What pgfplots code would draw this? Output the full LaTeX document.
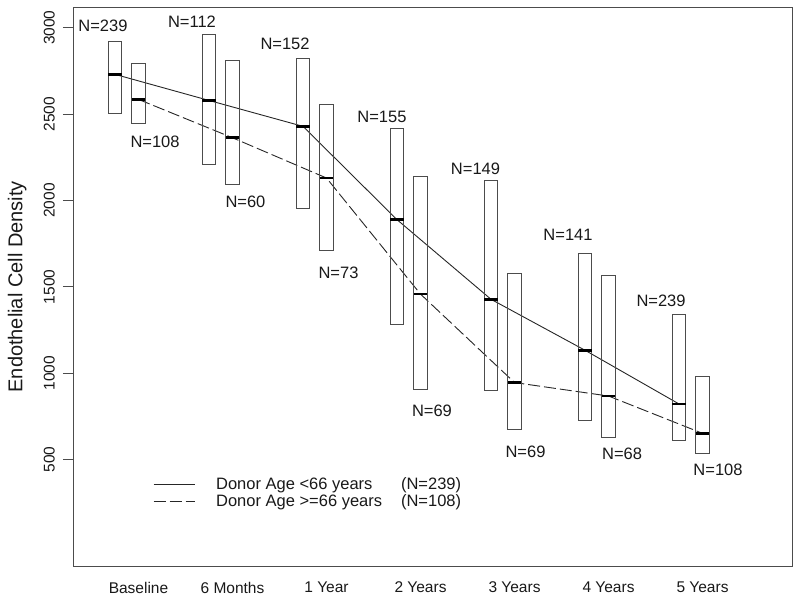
\documentclass[border=0pt]{standalone}
\usepackage{fontspec}
\setmainfont{Liberation Sans}
\usepackage{pgfplots}
\pgfplotsset{compat=1.18}
\newcommand{\annfont}{\fontsize{16.5bp}{19bp}\selectfont}
\begin{document}
\begin{tikzpicture}
\begin{axis}[
  scale only axis, width=719bp, height=559.7bp,
  xmin=0.3032, xmax=7.952, ymin=-120, ymax=3120,
  axis line style={draw=black!70, line width=0.9bp},
  xtick={1,2,3,4,5,6,7},
  xticklabels={Baseline,6 Months,1 Year,2 Years,3 Years,4 Years,5 Years},
  xtick style={draw=none},
  ytick={500,1000,1500,2000,2500,3000},
  ytick pos=left, tick align=outside, major tick length=10bp,
  ytick style={draw=black!70, line width=0.9bp},
  ticklabel style={font=\fontsize{15.5bp}{18bp}\selectfont, text=black!90},
  /pgf/number format/assume math mode=true,
  /pgf/number format/1000 sep={},
  yticklabel style={rotate=90, anchor=south, inner sep=0pt, yshift=8bp},
  xticklabel style={anchor=north, inner sep=0pt, yshift=-5bp},
  ylabel={Endothelial Cell Density},
  every axis y label/.style={at={(axis description cs:-0.0643,0.5)}, rotate=90,
     anchor=south, inner sep=0pt, text=black!90,
     font=\fontsize{20bp}{24bp}\selectfont},
  legend style={at={(axis description cs:0.1113,0.160)}, anchor=north west,
     draw=none, fill=none, inner sep=0pt, font=\annfont, text=black!90,
     nodes={inner sep=0pt}, column sep=0pt, row sep=3.5bp,
     cells={anchor=west}},
  legend image code/.code={\draw[#1] (0bp,0bp) -- (41bp,0bp); \path (62bp,0bp);},
  unbounded coords=jump,
]
\addplot[black!85, line width=0.9bp, mark=none] coordinates {
  (0.75,2730) (1.75,2579) (2.75,2429) (3.75,1889) (4.75,1428) (5.75,1133) (6.75,822)};
\addlegendentry{\makebox[185bp][l]{Donor Age <66 years}(N=239)}
\addplot[black!85, line width=0.9bp, mark=none, dash pattern=on 12bp off 4bp] coordinates {
  (1,2585) (2,2363) (3,2130) (4,1458) (5,946) (6,868) (7,652)};
\addlegendentry{\makebox[185bp][l]{Donor Age >=66 years}(N=108)}

% boxes (donor age < 66), lower and upper edges
\addplot[forget plot, draw=black!70, line width=0.9bp, line join=miter, mark=none] coordinates {
 (0.68,2502) (0.82,2502) (0.82,2922) (0.68,2922) (0.68,2502) (0.82,2502) (0.82,nan)
 (1.68,2211) (1.82,2211) (1.82,2961) (1.68,2961) (1.68,2211) (1.82,2211) (1.82,nan)
 (2.68,1953) (2.82,1953) (2.82,2820) (2.68,2820) (2.68,1953) (2.82,1953) (2.82,nan)
 (3.68,1281) (3.82,1281) (3.82,2415) (3.68,2415) (3.68,1281) (3.82,1281) (3.82,nan)
 (4.68,901) (4.82,901) (4.82,2116) (4.68,2116) (4.68,901) (4.82,901) (4.82,nan)
 (5.68,726) (5.82,726) (5.82,1694) (5.68,1694) (5.68,726) (5.82,726) (5.82,nan)
 (6.68,613) (6.82,613) (6.82,1341) (6.68,1341) (6.68,613) (6.82,613)};
% boxes (donor age >= 66)
\addplot[forget plot, draw=black!70, line width=0.9bp, line join=miter, mark=none] coordinates {
 (0.93,2444) (1.07,2444) (1.07,2792) (0.93,2792) (0.93,2444) (1.07,2444) (1.07,nan)
 (1.93,2091) (2.07,2091) (2.07,2813) (1.93,2813) (1.93,2091) (2.07,2091) (2.07,nan)
 (2.93,1711) (3.07,1711) (3.07,2558) (2.93,2558) (2.93,1711) (3.07,1711) (3.07,nan)
 (3.93,907) (4.07,907) (4.07,2141) (3.93,2141) (3.93,907) (4.07,907) (4.07,nan)
 (4.93,674) (5.07,674) (5.07,1580) (4.93,1580) (4.93,674) (5.07,674) (5.07,nan)
 (5.93,629) (6.07,629) (6.07,1568) (5.93,1568) (5.93,629) (6.07,629) (6.07,nan)
 (6.93,536) (7.07,536) (7.07,984) (6.93,984) (6.93,536) (7.07,536)};
% medians
\addplot[forget plot, draw=black, line width=2.6bp, mark=none] coordinates {
 (0.68,2730) (0.82,2730) (0.82,nan)
 (1.68,2579) (1.82,2579) (1.82,nan)
 (2.68,2429) (2.82,2429) (2.82,nan)
 (3.68,1889) (3.82,1889) (3.82,nan)
 (4.68,1428) (4.82,1428) (4.82,nan)
 (5.68,1133) (5.82,1133) (5.82,nan)
 (6.68,822) (6.82,822) (6.82,nan)
 (0.93,2585) (1.07,2585) (1.07,nan)
 (1.93,2363) (2.07,2363) (2.07,nan)
 (2.93,2130) (3.07,2130) (3.07,nan)
 (3.93,1458) (4.07,1458) (4.07,nan)
 (4.93,946) (5.07,946) (5.07,nan)
 (5.93,868) (6.07,868) (6.07,nan)
 (6.93,652) (7.07,652)};

\begin{scope}[every node/.style={font=\annfont, inner sep=0pt, text=black!90}]
\node at (axis cs:0.622,3013) {N=239};
\node at (axis cs:1.569,3036) {N=112};
\node at (axis cs:2.559,2909) {N=152};
\node at (axis cs:3.590,2481) {N=155};
\node at (axis cs:4.585,2186) {N=149};
\node at (axis cs:5.569,1804) {N=141};
\node at (axis cs:6.559,1422) {N=239};
\node at (axis cs:1.176,2342) {N=108};
\node at (axis cs:2.138,1995) {N=60};
\node at (axis cs:3.128,1584) {N=73};
\node at (axis cs:4.122,785) {N=69};
\node at (axis cs:5.117,544) {N=69};
\node at (axis cs:6.144,536) {N=68};
\node at (axis cs:7.165,438) {N=108};
\end{scope}
\end{axis}
\pgfresetboundingbox
\path (-73bp,-32.3bp) rectangle (727bp,566.7bp);
\end{tikzpicture}
\end{document}
